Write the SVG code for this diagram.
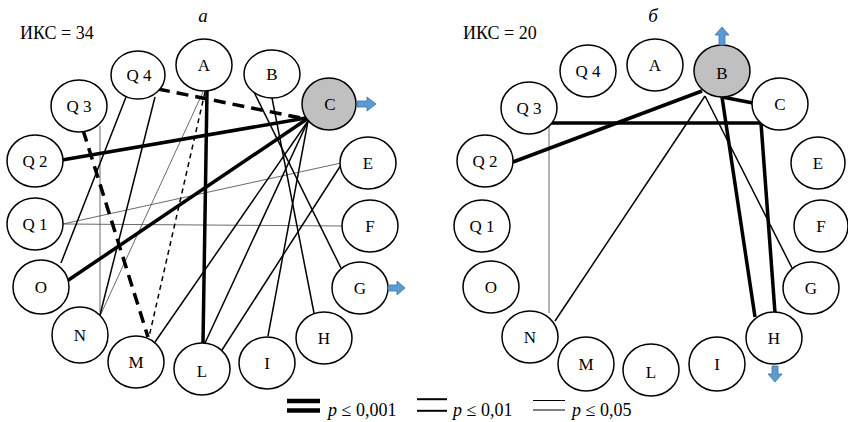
<svg xmlns="http://www.w3.org/2000/svg" width="848" height="422" viewBox="0 0 848 422">
<style>
text{font-family:'Liberation Serif',serif !important;fill:#000}
.nd ellipse{fill:#fff;stroke:#000;stroke-width:1.5}
.nd.hl ellipse{fill:#c0c0c0}
.nd text{font-size:17px;text-anchor:middle}
.t1{stroke:#000;stroke-width:3.5;fill:none}
.t1d{stroke:#000;stroke-width:3.5;fill:none;stroke-dasharray:12 7}
.t2{stroke:#000;stroke-width:1.5;fill:none}
.t2d{stroke:#000;stroke-width:1.5;fill:none;stroke-dasharray:5 4}
.t3{stroke:#444;stroke-width:0.8;fill:none}
.arr{fill:#5b9bd5;stroke:#41719c;stroke-width:0.8}
</style>
<rect width="848" height="422" fill="#fff"/>

<!-- headers -->
<text x="203" y="22" style="font-family:'Liberation Serif',serif;font-style:italic;font-size:19px;text-anchor:middle">а</text>
<text x="653" y="22" style="font-family:'Liberation Serif',serif;font-style:italic;font-size:19px;text-anchor:middle">б</text>
<text x="20" y="39" style="font-family:'Liberation Serif',serif;font-size:18px">ИКС = 34</text>
<text x="463" y="39" style="font-family:'Liberation Serif',serif;font-size:18px">ИКС = 20</text>

<!-- connectors -->
<g id="connectors">
  <!-- left -->
  <line class="t3" x1="100" y1="126" x2="100" y2="312"/>
  <line class="t3" x1="63" y1="224" x2="341" y2="163"/>
  <line class="t3" x1="63" y1="224" x2="343" y2="226"/>
  <line class="t3" x1="203" y1="92" x2="100" y2="316"/>
  <line class="t2" x1="126" y1="97" x2="61" y2="263"/>
  <line class="t2" x1="155" y1="97" x2="100" y2="315"/>
  <line class="t2" x1="308" y1="121" x2="155" y2="342"/>
  <line class="t2" x1="308" y1="121" x2="205" y2="343"/>
  <line class="t2" x1="308" y1="121" x2="268" y2="336"/>
  <line class="t2" x1="341" y1="165" x2="222" y2="350"/>
  <line class="t2" x1="254" y1="92" x2="341" y2="268"/>
  <line class="t2" x1="272" y1="98" x2="314" y2="313"/>
  <line class="t2d" x1="205" y1="92" x2="149" y2="337"/>
  <line class="t1" x1="62" y1="160" x2="306" y2="118"/>
  <line class="t1" x1="67" y1="281" x2="307" y2="119"/>
  <line class="t1" x1="207" y1="91" x2="203" y2="343"/>
  <line class="t1d" x1="158" y1="89" x2="306" y2="119"/>
  <line class="t1d" x1="83" y1="130" x2="148" y2="337"/>
  <!-- right -->
  <line class="t3" x1="549" y1="123" x2="549" y2="313"/>
  <line class="t2" x1="705" y1="96" x2="555" y2="321"/>
  <line class="t2" x1="705" y1="96" x2="792" y2="268"/>
  <line class="t1" x1="702" y1="91" x2="513" y2="162"/>
  <line class="t1" x1="722" y1="97" x2="753" y2="103"/>
  <line class="t1" x1="722" y1="97" x2="755" y2="317"/>
  <line class="t1" x1="549" y1="123" x2="762" y2="123"/>
  <line class="t1" x1="761" y1="123" x2="775" y2="313"/>
</g>

<!-- left nodes -->
<g id="L_Q4" class="nd"><ellipse cx="138" cy="75" rx="27" ry="24"/><text x="139" y="81">Q 4</text></g>
<g id="L_A" class="nd"><ellipse cx="204" cy="65" rx="28" ry="26"/><text x="204" y="71">A</text></g>
<g id="L_B" class="nd"><ellipse cx="272" cy="74" rx="28" ry="24"/><text x="272" y="80">B</text></g>
<g id="L_C" class="nd hl"><ellipse cx="329" cy="104" rx="27" ry="26"/><text x="330" y="110">C</text></g>
<g id="L_Q3" class="nd"><ellipse cx="79" cy="106" rx="28" ry="26"/><text x="79" y="112">Q 3</text></g>
<g id="L_Q2" class="nd"><ellipse cx="35" cy="161" rx="28" ry="26"/><text x="35" y="167">Q 2</text></g>
<g id="L_Q1" class="nd"><ellipse cx="35" cy="224" rx="28" ry="26"/><text x="35" y="230">Q 1</text></g>
<g id="L_O" class="nd"><ellipse cx="41" cy="287" rx="28" ry="27"/><text x="41" y="293">O</text></g>
<g id="L_N" class="nd"><ellipse cx="80" cy="335" rx="28" ry="28"/><text x="80" y="341">N</text></g>
<g id="L_M" class="nd"><ellipse cx="136" cy="362" rx="28" ry="26"/><text x="136" y="368">M</text></g>
<g id="L_L" class="nd"><ellipse cx="202" cy="369" rx="28" ry="26"/><text x="202" y="377">L</text></g>
<g id="L_I" class="nd"><ellipse cx="267" cy="363" rx="28" ry="26"/><text x="267" y="369">I</text></g>
<g id="L_H" class="nd"><ellipse cx="324" cy="338" rx="28" ry="26"/><text x="324" y="344">H</text></g>
<g id="L_G" class="nd"><ellipse cx="360" cy="288" rx="28" ry="26"/><text x="360" y="294">G</text></g>
<g id="L_F" class="nd"><ellipse cx="370" cy="226" rx="28" ry="26"/><text x="370" y="232">F</text></g>
<g id="L_E" class="nd"><ellipse cx="368" cy="163" rx="28" ry="26"/><text x="368" y="169">E</text></g>

<!-- right nodes -->
<g id="R_Q4" class="nd"><ellipse cx="588" cy="71" rx="28" ry="26"/><text x="588" y="77">Q 4</text></g>
<g id="R_A" class="nd"><ellipse cx="655" cy="65" rx="28" ry="26"/><text x="655" y="71">A</text></g>
<g id="R_B" class="nd hl"><ellipse cx="722" cy="71" rx="28" ry="26"/><text x="722" y="79">B</text></g>
<g id="R_C" class="nd"><ellipse cx="780" cy="104" rx="28" ry="26"/><text x="780" y="110">C</text></g>
<g id="R_Q3" class="nd"><ellipse cx="529" cy="108" rx="28" ry="26"/><text x="529" y="114">Q 3</text></g>
<g id="R_Q2" class="nd"><ellipse cx="485" cy="161" rx="28" ry="26"/><text x="485" y="167">Q 2</text></g>
<g id="R_Q1" class="nd"><ellipse cx="482" cy="226" rx="28" ry="26"/><text x="482" y="232">Q 1</text></g>
<g id="R_O" class="nd"><ellipse cx="491" cy="287" rx="28" ry="26"/><text x="491" y="293">O</text></g>
<g id="R_N" class="nd"><ellipse cx="530" cy="337" rx="28" ry="26"/><text x="530" y="343">N</text></g>
<g id="R_M" class="nd"><ellipse cx="586" cy="364" rx="28" ry="27"/><text x="586" y="370">M</text></g>
<g id="R_L" class="nd"><ellipse cx="651" cy="370" rx="28" ry="26"/><text x="651" y="378">L</text></g>
<g id="R_I" class="nd"><ellipse cx="717" cy="364" rx="28" ry="27"/><text x="717" y="370">I</text></g>
<g id="R_H" class="nd"><ellipse cx="774" cy="338" rx="28" ry="26"/><text x="774" y="344">H</text></g>
<g id="R_G" class="nd"><ellipse cx="811" cy="288" rx="28" ry="26"/><text x="811" y="294">G</text></g>
<g id="R_F" class="nd"><ellipse cx="821" cy="226" rx="27" ry="26"/><text x="821" y="232">F</text></g>
<g id="R_E" class="nd"><ellipse cx="818" cy="163" rx="27" ry="26"/><text x="818" y="169">E</text></g>

<!-- blue arrows -->
<polygon class="arr" points="357,101 367,101 367,97 376,104 367,111 367,107 357,107"/>
<polygon class="arr" points="388,285 397,285 397,281 405,288 397,295 397,291 388,291"/>
<polygon class="arr" points="719,45 719,35 715,35 722,27 729,35 725,35 725,45"/>
<polygon class="arr" points="772,366 778,366 778,374 782,374 775,382 768,374 772,374"/>

<!-- legend -->
<g id="legend">
  <line x1="287" y1="401" x2="320" y2="401" stroke="#000" stroke-width="4.5"/>
  <line x1="287" y1="410.5" x2="320" y2="410.5" stroke="#000" stroke-width="4.5"/>
  <text x="328" y="416" style="font-family:'Liberation Serif',serif;font-size:18px"><tspan font-style="italic">p</tspan> ≤ 0,001</text>
  <line x1="417" y1="399.2" x2="447" y2="399.2" stroke="#000" stroke-width="2"/>
  <line x1="417" y1="410.8" x2="447" y2="410.8" stroke="#000" stroke-width="2"/>
  <text x="453" y="416" style="font-family:'Liberation Serif',serif;font-size:18px"><tspan font-style="italic">p</tspan> ≤ 0,01</text>
  <line x1="533" y1="400.5" x2="565" y2="400.5" stroke="#000" stroke-width="1"/>
  <line x1="533" y1="410" x2="565" y2="410" stroke="#000" stroke-width="1"/>
  <text x="572" y="416" style="font-family:'Liberation Serif',serif;font-size:18px"><tspan font-style="italic">p</tspan> ≤ 0,05</text>
</g>
</svg>
